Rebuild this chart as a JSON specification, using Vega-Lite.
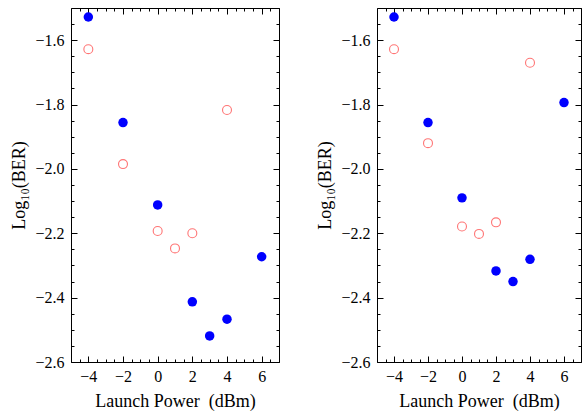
{
  "$schema": "https://vega.github.io/schema/vega-lite/v6.json",
  "padding": {"left": 10, "top": 7, "right": 0, "bottom": 5},
  "spacing": 36,
  "config": {
    "font": "Liberation Serif",
    "view": {"stroke": "black", "strokeWidth": 1},
    "axis": {
      "domain": false,
      "grid": false,
      "minExtent": 0,
      "offset": 0,
      "tickColor": "black",
      "tickWidth": 1,
      "labelFont": "Liberation Serif",
      "labelFontSize": 16,
      "labelColor": "black",
      "labelOverlap": false,
      "labelFlush": false,
      "labelBound": false,
      "titleFont": "Liberation Serif",
      "titleFontSize": 18,
      "titleFontWeight": "normal",
      "titleColor": "black"
    }
  },
  "datasets": {
    "pts": [
      {"panel": "a", "series": "blue", "power": -4, "logber": -1.528},
      {"panel": "a", "series": "blue", "power": -2, "logber": -1.856},
      {"panel": "a", "series": "blue", "power": 0, "logber": -2.112},
      {"panel": "a", "series": "blue", "power": 2, "logber": -2.413},
      {"panel": "a", "series": "blue", "power": 3, "logber": -2.519},
      {"panel": "a", "series": "blue", "power": 4, "logber": -2.467},
      {"panel": "a", "series": "blue", "power": 6, "logber": -2.273},
      {"panel": "a", "series": "red", "power": -4, "logber": -1.628},
      {"panel": "a", "series": "red", "power": -2, "logber": -1.985},
      {"panel": "a", "series": "red", "power": 0, "logber": -2.193},
      {"panel": "a", "series": "red", "power": 1, "logber": -2.247},
      {"panel": "a", "series": "red", "power": 2, "logber": -2.2},
      {"panel": "a", "series": "red", "power": 4, "logber": -1.817},
      {"panel": "b", "series": "blue", "power": -4, "logber": -1.528},
      {"panel": "b", "series": "blue", "power": -2, "logber": -1.856},
      {"panel": "b", "series": "blue", "power": 0, "logber": -2.09},
      {"panel": "b", "series": "blue", "power": 2, "logber": -2.317},
      {"panel": "b", "series": "blue", "power": 3, "logber": -2.35},
      {"panel": "b", "series": "blue", "power": 4, "logber": -2.281},
      {"panel": "b", "series": "blue", "power": 6, "logber": -1.794},
      {"panel": "b", "series": "red", "power": -4, "logber": -1.628},
      {"panel": "b", "series": "red", "power": -2, "logber": -1.92},
      {"panel": "b", "series": "red", "power": 0, "logber": -2.179},
      {"panel": "b", "series": "red", "power": 1, "logber": -2.202},
      {"panel": "b", "series": "red", "power": 2, "logber": -2.166},
      {"panel": "b", "series": "red", "power": 4, "logber": -1.67}
    ]
  },
  "hconcat": [
    {
      "width": 208,
      "height": 354,
      "data": {"name": "pts"},
      "transform": [{"filter": "datum.panel == 'a'"}],
      "layer": [
        {
          "transform": [{"filter": "datum.series == 'blue'"}],
          "mark": {"type": "point", "filled": true, "color": "#0000ff", "size": 90, "opacity": 1},
          "encoding": {
            "x": {"field": "power", "type": "quantitative", "scale": {"domain": [-5, 7], "nice": false, "zero": false},
              "axis": {"orient": "bottom", "title": "Launch Power \u00a0(dBm)", "titlePadding": 5,
                "values": [-5,-4.5,-4,-3.5,-3,-2.5,-2,-1.5,-1,-0.5,0,0.5,1,1.5,2,2.5,3,3.5,4,4.5,5,5.5,6,6.5,7],
                "format": ".0f",
                "labelExpr": "datum.value % 2 == 0 ? datum.label : ''",
                "tickSize": {"condition": {"test": "datum.value % 2 == 0", "value": -6}, "value": -3},
                "labelPadding": 12}},
            "y": {"field": "logber", "type": "quantitative", "scale": {"domain": [-2.6, -1.5], "nice": false, "zero": false},
              "axis": {"orient": "left", "title": "Log\u2081\u2080(BER)", "titlePadding": 6,
                "values": [-2.6,-2.55,-2.5,-2.45,-2.4,-2.35,-2.3,-2.25,-2.2,-2.15,-2.1,-2.05,-2.0,-1.95,-1.9,-1.85,-1.8,-1.75,-1.7,-1.65,-1.6,-1.55],
                "format": ".1f",
                "labelExpr": "abs(datum.value*5 - round(datum.value*5)) < 0.000001 ? datum.label : ''",
                "tickSize": {"condition": {"test": "abs(datum.value*5 - round(datum.value*5)) < 0.000001", "value": -6}, "value": -3},
                "labelPadding": 13}}
          }
        },
        {
          "transform": [{"filter": "datum.series == 'red'"}],
          "mark": {"type": "point", "filled": false, "color": "#ff3b3b", "size": 80, "strokeWidth": 1.1},
          "encoding": {
            "x": {"field": "power", "type": "quantitative", "scale": {"domain": [-5, 7], "nice": false, "zero": false},
              "axis": {"orient": "top", "title": null, "labels": false,
                "values": [-5,-4.5,-4,-3.5,-3,-2.5,-2,-1.5,-1,-0.5,0,0.5,1,1.5,2,2.5,3,3.5,4,4.5,5,5.5,6,6.5,7],
                "tickSize": {"condition": {"test": "datum.value % 2 == 0", "value": -6}, "value": -3}}},
            "y": {"field": "logber", "type": "quantitative", "scale": {"domain": [-2.6, -1.5], "nice": false, "zero": false},
              "axis": {"orient": "right", "title": null, "labels": false,
                "values": [-2.6,-2.55,-2.5,-2.45,-2.4,-2.35,-2.3,-2.25,-2.2,-2.15,-2.1,-2.05,-2.0,-1.95,-1.9,-1.85,-1.8,-1.75,-1.7,-1.65,-1.6,-1.55,-1.5],
                "tickSize": {"condition": {"test": "abs(datum.value*5 - round(datum.value*5)) < 0.000001", "value": -6}, "value": -3}}}
          }
        }
      ],
      "resolve": {"axis": {"x": "independent", "y": "independent"}}
    },
    {
      "width": 204,
      "height": 354,
      "data": {"name": "pts"},
      "transform": [{"filter": "datum.panel == 'b'"}],
      "layer": [
        {
          "transform": [{"filter": "datum.series == 'blue'"}],
          "mark": {"type": "point", "filled": true, "color": "#0000ff", "size": 90, "opacity": 1},
          "encoding": {
            "x": {"field": "power", "type": "quantitative", "scale": {"domain": [-5, 7], "nice": false, "zero": false},
              "axis": {"orient": "bottom", "title": "Launch Power \u00a0(dBm)", "titlePadding": 5,
                "values": [-5,-4.5,-4,-3.5,-3,-2.5,-2,-1.5,-1,-0.5,0,0.5,1,1.5,2,2.5,3,3.5,4,4.5,5,5.5,6,6.5,7],
                "format": ".0f",
                "labelExpr": "datum.value % 2 == 0 ? datum.label : ''",
                "tickSize": {"condition": {"test": "datum.value % 2 == 0", "value": -6}, "value": -3},
                "labelPadding": 12}},
            "y": {"field": "logber", "type": "quantitative", "scale": {"domain": [-2.6, -1.5], "nice": false, "zero": false},
              "axis": {"orient": "left", "title": "Log\u2081\u2080(BER)", "titlePadding": 6,
                "values": [-2.6,-2.55,-2.5,-2.45,-2.4,-2.35,-2.3,-2.25,-2.2,-2.15,-2.1,-2.05,-2.0,-1.95,-1.9,-1.85,-1.8,-1.75,-1.7,-1.65,-1.6,-1.55],
                "format": ".1f",
                "labelExpr": "abs(datum.value*5 - round(datum.value*5)) < 0.000001 ? datum.label : ''",
                "tickSize": {"condition": {"test": "abs(datum.value*5 - round(datum.value*5)) < 0.000001", "value": -6}, "value": -3},
                "labelPadding": 13}}
          }
        },
        {
          "transform": [{"filter": "datum.series == 'red'"}],
          "mark": {"type": "point", "filled": false, "color": "#ff3b3b", "size": 80, "strokeWidth": 1.1},
          "encoding": {
            "x": {"field": "power", "type": "quantitative", "scale": {"domain": [-5, 7], "nice": false, "zero": false},
              "axis": {"orient": "top", "title": null, "labels": false,
                "values": [-5,-4.5,-4,-3.5,-3,-2.5,-2,-1.5,-1,-0.5,0,0.5,1,1.5,2,2.5,3,3.5,4,4.5,5,5.5,6,6.5,7],
                "tickSize": {"condition": {"test": "datum.value % 2 == 0", "value": -6}, "value": -3}}},
            "y": {"field": "logber", "type": "quantitative", "scale": {"domain": [-2.6, -1.5], "nice": false, "zero": false},
              "axis": {"orient": "right", "title": null, "labels": false,
                "values": [-2.6,-2.55,-2.5,-2.45,-2.4,-2.35,-2.3,-2.25,-2.2,-2.15,-2.1,-2.05,-2.0,-1.95,-1.9,-1.85,-1.8,-1.75,-1.7,-1.65,-1.6,-1.55,-1.5],
                "tickSize": {"condition": {"test": "abs(datum.value*5 - round(datum.value*5)) < 0.000001", "value": -6}, "value": -3}}}
          }
        }
      ],
      "resolve": {"axis": {"x": "independent", "y": "independent"}}
    }
  ]
}
